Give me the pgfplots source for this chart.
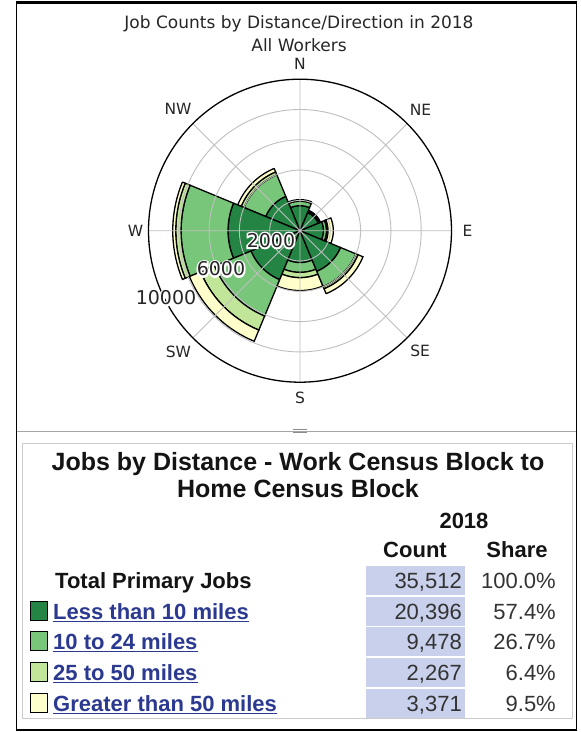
\documentclass[border=0pt]{standalone}
\usepackage{fontspec}
\setmainfont{Liberation Sans}
\newfontfamily\dejavu{DejaVu Sans}
\newfontfamily\dejavuhalo{DejaVu Sans}[FakeBold=18]
\usepackage{pgfplots}
\pgfplotsset{compat=1.18}
\usepackage{pgfplotstable}
\usepgfplotslibrary{polar}

\definecolor{cA}{HTML}{238443}
\definecolor{cB}{HTML}{78C679}
\definecolor{cC}{HTML}{C2E699}
\definecolor{cD}{HTML}{FFFFCC}
\definecolor{cellbg}{HTML}{C8D0EC}
\definecolor{linkblue}{HTML}{2B3990}
\definecolor{numgray}{HTML}{333333}

% job counts per direction sector (centre angle, counts per distance band)
\pgfplotstableread{
dir  lt10  b1024  b2550  gt50
0    1550  200    100    350
45   1300  80     40     40
90   1650  300    50     50
135  2450  1550   200    250
180  4750  3100   350    200
225  3500  2600   1000   800
270  2100  650    350    850
315  2900  1100   150    350
}\rosedata

% annular sector: #1 centre angle, #2 inner radius, #3 outer radius, #4 colour
\newcommand\roseWedge[4]{%
  \gdef\rosepts{}%
  \foreach \k in {0,...,18}{%
    \pgfmathsetmacro\t{#1-22.5+2.5*\k}%
    \xdef\rosepts{\rosepts (\t,#3)}%
  }%
  \foreach \k in {18,17,...,0}{%
    \pgfmathsetmacro\t{#1-22.5+2.5*\k}%
    \xdef\rosepts{\rosepts (\t,#2)}%
  }%
  \pgfmathsetmacro\t{#1-22.5}%
  \xdef\rosepts{\rosepts (\t,#3)}%
  \edef\temp{\noexpand\addplot[fill=#4,draw=black,line width=1.3pt,line join=miter,mark=none] coordinates {\rosepts};}%
  \temp
}

\newcommand\halolabel[3]{%
  \node[font=\dejavuhalo\fontsize{19}{20}\selectfont,text=white,inner sep=0pt] at (#1,#2) {#3};
  \node[font=\dejavu\fontsize{19}{20}\selectfont,text=black!85,inner sep=0pt] at (#1,#2) {#3};
}

\begin{document}
\begin{tikzpicture}[x=1pt,y=-1pt]
\useasboundingbox (0,0) rectangle (581,732);
\fill[white] (0,0) rectangle (581,732);

% chart title
\node[font=\dejavu\fontsize{17}{18}\selectfont,anchor=base,text=black!85,inner sep=0pt] at (299,28) {Job Counts by Distance/Direction in 2018};
\node[font=\dejavu\fontsize{17}{18}\selectfont,anchor=base,text=black!85,inner sep=0pt] at (299,51) {All Workers};

\begin{polaraxis}[
  at={(300pt,-230.7pt)}, anchor=center,
  scale only axis, width=303pt, height=303pt,
  xmin=0, xmax=360, ymin=0, ymax=10000,
  xtick={0,45,...,315},
  xticklabels={\hspace{6pt}E,NE,\raisebox{5pt}{N},NW,W\hspace{3pt},SW,\raisebox{-5pt}[\height][\depth]{S},SE},
  ytick={2000,4000,6000,8000},
  yticklabels={},
  scaled y ticks=false,
  grid=major,
  major grid style={draw=black!25, line width=0.9pt},
  axis line style={black, line width=1.3pt},
  y axis line style={draw=none},
  major tick length=0pt,
  xticklabel style={font=\dejavu\fontsize{15.5}{16}\selectfont, text=black!85, inner sep=5pt},
  axis on top,
  clip=false,
]
\pgfplotstablegetrowsof{\rosedata}
\pgfmathtruncatemacro\nr{\pgfplotsretval-1}
\foreach \i in {0,...,\nr}{%
  \pgfplotstablegetelem{\i}{dir}\of\rosedata \edef\d{\pgfplotsretval}%
  \pgfplotstablegetelem{\i}{lt10}\of\rosedata \edef\ra{\pgfplotsretval}%
  \pgfplotstablegetelem{\i}{b1024}\of\rosedata \pgfmathsetmacro\rb{\ra+\pgfplotsretval}%
  \pgfplotstablegetelem{\i}{b2550}\of\rosedata \pgfmathsetmacro\rc{\rb+\pgfplotsretval}%
  \pgfplotstablegetelem{\i}{gt50}\of\rosedata \pgfmathsetmacro\rd{\rc+\pgfplotsretval}%
  \roseWedge{\d}{0}{\ra}{cA}%
  \roseWedge{\d}{\ra}{\rb}{cB}%
  \roseWedge{\d}{\rb}{\rc}{cC}%
  \roseWedge{\d}{\rc}{\rd}{cD}%
}
\end{polaraxis}

\halolabel{271}{240.5}{2000}
\halolabel{221}{269}{6000}
\halolabel{166}{298}{10000}

% frame and separator
\draw[black, line width=1.5pt] (16.5,2) -- (16.5,730) -- (576.5,730) -- (576.5,2);
\draw[black, line width=3pt] (15.75,2) -- (577.25,2);
\draw[black!35, line width=1pt] (17,431) -- (576,431);
\draw[black!45, line width=0.8pt] (293,429) -- (307,429) (293,432) -- (307,432);
\draw[black!20, line width=1pt] (22,443) rectangle (572,718);

% table
\node[font=\bfseries\fontsize{25}{28}\selectfont,anchor=base,inner sep=0pt,text=black!92] at (298,470) {Jobs by Distance - Work Census Block to};
\node[font=\bfseries\fontsize{25}{28}\selectfont,anchor=base,inner sep=0pt,text=black!92] at (298,497) {Home Census Block};
\node[font=\bfseries\fontsize{22}{24}\selectfont,anchor=base,inner sep=0pt,text=black!92] at (464,528) {2018};
\node[font=\bfseries\fontsize{22}{24}\selectfont,anchor=base,inner sep=0pt,text=black!92] at (415,557) {Count};
\node[font=\bfseries\fontsize{22}{24}\selectfont,anchor=base,inner sep=0pt,text=black!92] at (517,557) {Share};

\foreach \yc in {580,611,641,672,703}{%
  \fill[cellbg] (366,\yc-14.5) rectangle (464.5,\yc+14.5);
}

\node[font=\bfseries\fontsize{22}{24}\selectfont,anchor=base west,inner sep=0pt,text=black!92] at (55,588) {Total Primary Jobs};
\foreach \yc/\col/\lab in {611/cA/Less than 10 miles, 641/cB/10 to 24 miles, 672/cC/25 to 50 miles, 703/cD/Greater than 50 miles}{%
  \filldraw[fill=\col, draw=black, line width=1pt] (30.5,\yc-9.5) rectangle (47,\yc+9.5);
  \node[font=\bfseries\fontsize{22}{24}\selectfont,anchor=base west,inner sep=0pt,text=linkblue] (lk) at (53,\yc+8) {\lab};
  \draw[linkblue, line width=1.4pt] ([yshift=-2.5pt]lk.base west) -- ([yshift=-2.5pt]lk.base east);
}

\foreach \yc/\cnt/\shr in {580/{35,512}/100.0\%, 611/{20,396}/57.4\%, 641/{9,478}/26.7\%, 672/{2,267}/6.4\%, 703/{3,371}/9.5\%}{%
  \node[font=\fontsize{22}{24}\selectfont,anchor=base east,inner sep=0pt,text=numgray] at (462,\yc+8) {\cnt};
  \node[font=\fontsize{22}{24}\selectfont,anchor=base east,inner sep=0pt,text=numgray] at (556,\yc+8) {\shr};
}
\end{tikzpicture}
\end{document}
